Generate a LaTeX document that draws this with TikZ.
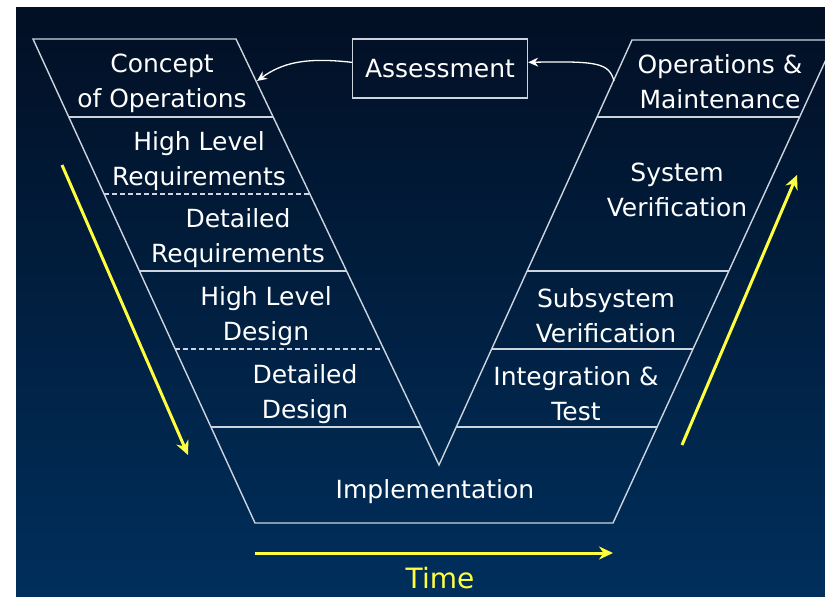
\documentclass[tikz,border=0pt]{standalone}
\usepackage{fontspec}
\setmainfont{DejaVu Sans}
\usepackage{tikz}
\usetikzlibrary{arrows.meta}
\definecolor{navytop}{RGB}{2,15,36}
\definecolor{navymid}{RGB}{0,38,78}
\definecolor{navybot}{RGB}{0,47,92}
\definecolor{vgray}{RGB}{205,212,222}
\definecolor{timeyellow}{RGB}{255,255,64}
\tikzset{
 vline/.style={vgray, line width=1.4pt},
 vdash/.style={vline, dash pattern=on 5pt off 3pt},
 phase/.style={text=white, align=center, inner sep=0pt, font=\fontsize{25}{35}\selectfont},
 back/.style={white, line width=1.3pt, -{Stealth[length=10pt,width=9pt]}},
 yarrow/.style={timeyellow, line width=3pt, -{Stealth[length=14pt,width=13pt]}}
}

\begin{document}
\begin{tikzpicture}[x=1pt,y=-1pt]
\useasboundingbox (0,0) rectangle (825,597);
\shade[top color=navytop, middle color=navymid, bottom color=navybot] (16,7) rectangle (825,597);
% the V
\begin{scope}
\clip (16,7) rectangle (825,597);
\draw[vline] (33,39) -- (236,39) -- (439,465) -- (632,40) -- (835,40) -- (613,523) -- (255,523) -- cycle;
\end{scope}
% left side rows
\foreach \y [evaluate=\y as \xa using 33+(\y-39)*0.4587, evaluate=\y as \xb using 236+(\y-39)*0.4765] in {117,271,427} {
 \draw[vline] (\xa,\y) -- (\xb,\y);
}
\foreach \y [evaluate=\y as \xa using 33+(\y-39)*0.4587, evaluate=\y as \xb using 236+(\y-39)*0.4765] in {194,349} {
 \draw[vdash] (\xa,\y) -- (\xb,\y);
}
% right side rows
\foreach \y [evaluate=\y as \xa using 632-(\y-40)*0.4541, evaluate=\y as \xb using 835-(\y-40)*0.4596] in {117,271,349,427} {
 \draw[vline] (\xa,\y) -- (\xb,\y);
}
% phases
\node[phase] (concept) at (162,83) {Concept\\of Operations};
\node[phase] (hlreq) at (199,161) {High Level\\Requirements};
\node[phase] (detreq) at (238,238) {Detailed\\Requirements};
\node[phase] (hldes) at (266,316) {High Level\\Design};
\node[phase] (detdes) at (305,394) {Detailed\\Design};
\node[phase] (impl) at (435,492) {Implementation};
\node[phase] (inttest) at (576,394) {Integration \&\\Test};
\node[phase] (subver) at (606,316) {Subsystem\\Verification};
\node[phase] (sysver) at (677,190) {System\\Verification};
\node[phase] (opsmaint) at (720,82) {Operations \&\\Maintenance};
\node[phase, draw=vgray, line width=1.4pt, minimum width=175pt, minimum height=59pt] (assess) at (440,68.5) {Assessment};
% feedback
\coordinate (omedge) at (614,81);
\coordinate (conedge) at (257,81);
\draw[back] (omedge) .. controls (609,63) and (598,61) .. (assess.4);
\draw[back] (assess.176) .. controls (305,57) and (282,63) .. (conedge);
% time arrows
\draw[yarrow] (62,165) -- (188,455);
\draw[yarrow] (682,445) -- (797,175);
\draw[yarrow] (255,553) -- (613,553);
\node[phase, text=timeyellow, font=\fontsize{28}{34}\selectfont] (timelbl) at (440,578) {Time};
\end{tikzpicture}
\end{document}
